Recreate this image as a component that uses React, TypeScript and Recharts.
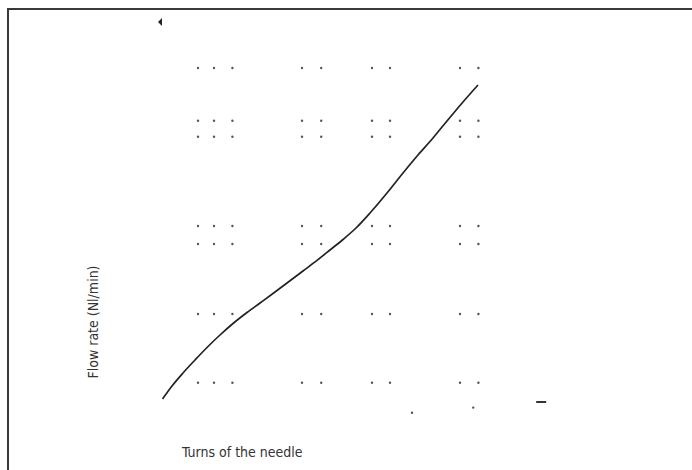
import { ComposedChart, Line, Scatter, XAxis, YAxis } from 'recharts'

// flow curve (turns, flow)
const turns = [0.313, 0.55, 0.825, 1.125, 1.425, 1.75, 2.075, 2.425, 2.75, 3.125, 3.5, 3.825, 4.175, 4.5, 4.825, 5.15, 5.5, 5.925, 6.325, 6.7, 7.075, 7.425, 7.825, 8.2]
const flow = [0.525, 0.85, 1.175, 1.5, 1.813, 2.125, 2.413, 2.688, 2.925, 3.2, 3.48, 3.725, 3.99, 4.25, 4.513, 4.8, 5.175, 5.675, 6.175, 6.625, 7.05, 7.475, 7.95, 8.375]

// leftover dotted tick marks
const dotCols = [1.2, 1.6, 2.06, 3.8, 4.28, 5.55, 6.0, 7.75, 8.21]
const dotRows = [8.8, 7.48, 7.08, 4.85, 4.4, 2.65, 0.93]
const strayDots = [{ x: 6.55, y: 0.18 }, { x: 8.08, y: 0.31 }]

const markTop = [{ x: 0.25, y: 9.95 }]
const markDash = [{ x: 9.78, y: 0.45 }]

const curveData = turns.map((t, i) => ({ x: t, y: flow[i] }))
const dotData = [
  ...dotRows.flatMap((r) => dotCols.map((c) => ({ x: c, y: r }))),
  ...strayDots,
]

const font = "'Liberation Sans Narrow', 'DejaVu Sans Condensed', Arial, sans-serif"

const SmallDot = (props: any) => <circle cx={props.cx} cy={props.cy} r={1.2} fill="#555" />
const Wedge = (props: any) => (
  <path d={`M${props.cx - 2},${props.cy} L${props.cx + 2},${props.cy - 4} L${props.cx + 2},${props.cy + 4} Z`} fill="#222" />
)
const Dash = (props: any) => <rect x={props.cx - 5} y={props.cy - 1} width={10} height={2} fill="#333" />

export default function App() {
  return (
    <div style={{ position: 'absolute', left: 0, top: 0, width: 692, height: 470, overflow: 'hidden', background: '#fff' }}>
      <div style={{ position: 'absolute', left: 7, top: 8, width: 700, height: 480, borderTop: '2px solid #3a3a3a', borderLeft: '2px solid #3a3a3a' }} />
      <ComposedChart width={692} height={470} margin={{ top: 20, right: 142, bottom: 50, left: 150 }} style={{ position: 'absolute', left: 0, top: 0 }}>
        <XAxis type="number" dataKey="x" domain={[0, 10]} hide />
        <YAxis type="number" dataKey="y" domain={[0, 10]} hide />
        <Scatter data={dotData} shape={SmallDot} isAnimationActive={false} />
        <Scatter data={markTop} shape={Wedge} isAnimationActive={false} />
        <Scatter data={markDash} shape={Dash} isAnimationActive={false} />
        <Line data={curveData} dataKey="y" type="monotone" stroke="#222" strokeWidth={1.7} dot={false} isAnimationActive={false} />
      </ComposedChart>
      <div style={{ position: 'absolute', left: 182, top: 444, fontFamily: font, fontSize: 14, color: '#333', whiteSpace: 'nowrap' }}>
        Turns of the needle
      </div>
      <div style={{ position: 'absolute', left: 93, top: 322, fontFamily: font, fontSize: 14, color: '#333', whiteSpace: 'nowrap', transform: 'translate(-50%, -50%) rotate(-90deg)' }}>
        Flow rate (Nl/min)
      </div>
    </div>
  )
}
